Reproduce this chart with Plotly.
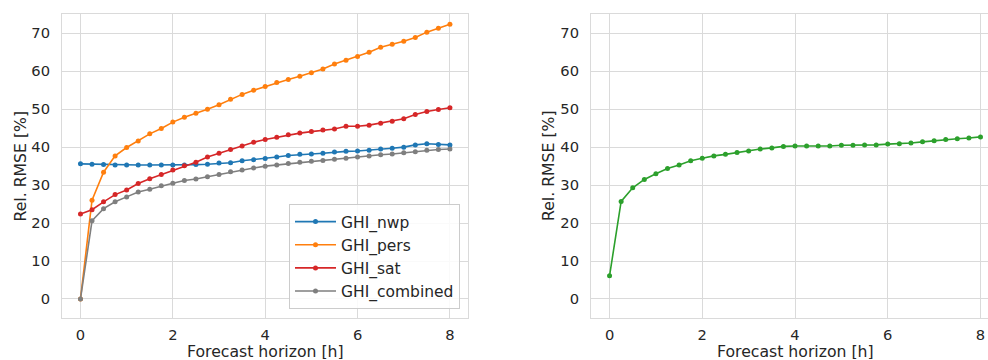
import plotly.graph_objects as go

hours = [0, 0.25, 0.5, 0.75, 1, 1.25, 1.5, 1.75, 2, 2.25, 2.5, 2.75, 3, 3.25, 3.5, 3.75,
         4, 4.25, 4.5, 4.75, 5, 5.25, 5.5, 5.75, 6, 6.25, 6.5, 6.75, 7, 7.25, 7.5, 7.75, 8]

ghi_nwp = [35.6, 35.5, 35.4, 35.3, 35.3, 35.3, 35.3, 35.3, 35.3, 35.3, 35.4, 35.5, 35.8, 35.9,
           36.4, 36.7, 37.0, 37.4, 37.8, 38.1, 38.2, 38.4, 38.7, 38.9, 39.0, 39.2, 39.5, 39.7,
           40.0, 40.6, 40.9, 40.7, 40.6]
ghi_pers = [0.0, 26.0, 33.4, 37.7, 39.9, 41.6, 43.5, 44.9, 46.6, 47.9, 48.9, 50.0, 51.2, 52.6,
            53.9, 55.0, 56.0, 57.0, 57.8, 58.7, 59.6, 60.6, 61.9, 62.9, 63.9, 65.0, 66.3, 67.1,
            67.9, 68.9, 70.3, 71.3, 72.4]
ghi_sat = [22.4, 23.5, 25.6, 27.5, 28.7, 30.4, 31.7, 32.8, 34.0, 35.1, 36.0, 37.4, 38.4, 39.4,
           40.3, 41.3, 42.0, 42.6, 43.3, 43.7, 44.1, 44.5, 44.8, 45.5, 45.5, 45.8, 46.3, 46.8,
           47.5, 48.6, 49.4, 49.9, 50.4]
ghi_combined = [0.0, 20.6, 23.8, 25.6, 26.9, 28.2, 28.9, 29.8, 30.5, 31.2, 31.6, 32.2, 32.8, 33.5,
                34.0, 34.5, 35.0, 35.3, 35.7, 36.0, 36.3, 36.5, 36.8, 37.1, 37.4, 37.7, 38.0, 38.2,
                38.5, 38.8, 39.2, 39.4, 39.5]
right_series = [6.1, 25.7, 29.3, 31.5, 33.0, 34.4, 35.3, 36.4, 37.1, 37.7, 38.1, 38.6, 39.0, 39.5,
                39.8, 40.2, 40.3, 40.3, 40.3, 40.3, 40.5, 40.5, 40.6, 40.6, 40.8, 40.9, 41.1, 41.4,
                41.7, 42.0, 42.2, 42.4, 42.7]

series_names = ["GHI_nwp", "GHI_pers", "GHI_sat", "GHI_combined"]
series_values = [ghi_nwp, ghi_pers, ghi_sat, ghi_combined]
series_colors = ["#1f77b4", "#ff7f0e", "#d62728", "#7f7f7f"]

x_ticks = [0, 2, 4, 6, 8]
y_ticks = [0, 10, 20, 30, 40, 50, 60, 70]

W, H = 988, 360
FONT = "DejaVu Sans"
TXT = "#262626"
GRID = "#dadada"
TICK_SIZE = 14.7
LABEL_SIZE = 15.7

fig = go.Figure()
for name, vals, col in zip(series_names, series_values, series_colors):
    fig.add_trace(go.Scatter(x=hours, y=vals, name=name, mode="lines+markers",
                             line=dict(color=col, width=1.6),
                             marker=dict(color=col, size=5),
                             xaxis="x", yaxis="y"))
fig.add_trace(go.Scatter(x=hours, y=right_series, name="GHI", mode="lines+markers",
                         line=dict(color="#2ca02c", width=1.6),
                         marker=dict(color="#2ca02c", size=5),
                         xaxis="x2", yaxis="y2", showlegend=False))

def px_x(p):
    return p / W

def px_y(p):
    return 1 - p / H

ydom = [px_y(317.7), px_y(14.3)]
axis_common = dict(showgrid=True, gridcolor=GRID, gridwidth=1, zeroline=False,
                   showline=True, linecolor=GRID, linewidth=1, mirror=True,
                   ticks="", tickfont=dict(family=FONT, size=TICK_SIZE, color=TXT))

fig.update_layout(
    width=W, height=H,
    margin=dict(l=0, r=0, t=0, b=0),
    paper_bgcolor="white", plot_bgcolor="white",
    font=dict(family=FONT, size=TICK_SIZE, color=TXT),
    xaxis=dict(domain=[px_x(62), px_x(468.4)], range=[-0.4, 8.4], tickvals=x_ticks,
               anchor="y", ticklabelstandoff=4, **axis_common),
    yaxis=dict(domain=ydom, range=[-4.93, 75.0], tickvals=y_ticks, anchor="x",
               ticklabelstandoff=8, **axis_common),
    xaxis2=dict(domain=[px_x(591), 1.0], range=[-0.4, 8.162], tickvals=x_ticks,
                anchor="y2", ticklabelstandoff=4, **axis_common),
    yaxis2=dict(domain=ydom, range=[-4.93, 75.0], tickvals=y_ticks, anchor="x2",
                ticklabelstandoff=8, **axis_common),
    legend=dict(x=px_x(460), y=px_y(309), xanchor="right", yanchor="bottom",
                bgcolor="rgba(255,255,255,0.85)", bordercolor="#cccccc", borderwidth=1,
                font=dict(family=FONT, size=15.5, color=TXT), tracegroupgap=0,
                itemwidth=41),
    showlegend=True,
)

annos = [
    dict(text="Forecast horizon [h]", x=px_x(265), y=px_y(351.3), height=16),
    dict(text="Forecast horizon [h]", x=px_x(795), y=px_y(351.3), height=16),
    dict(text="Rel. RMSE [%]", x=px_x(19.5), y=px_y(166), textangle=-90),
    dict(text="Rel. RMSE [%]", x=px_x(548), y=px_y(166), textangle=-90),
]
for a in annos:
    fig.add_annotation(xref="paper", yref="paper", showarrow=False,
                       xanchor="center", yanchor="middle", borderpad=0,
                       font=dict(family=FONT, size=LABEL_SIZE, color=TXT), **a)

fig.write_html("out.html", config={"displayModeBar": False},
               post_script="document.body.style.margin='0';document.body.style.overflow='hidden';")
